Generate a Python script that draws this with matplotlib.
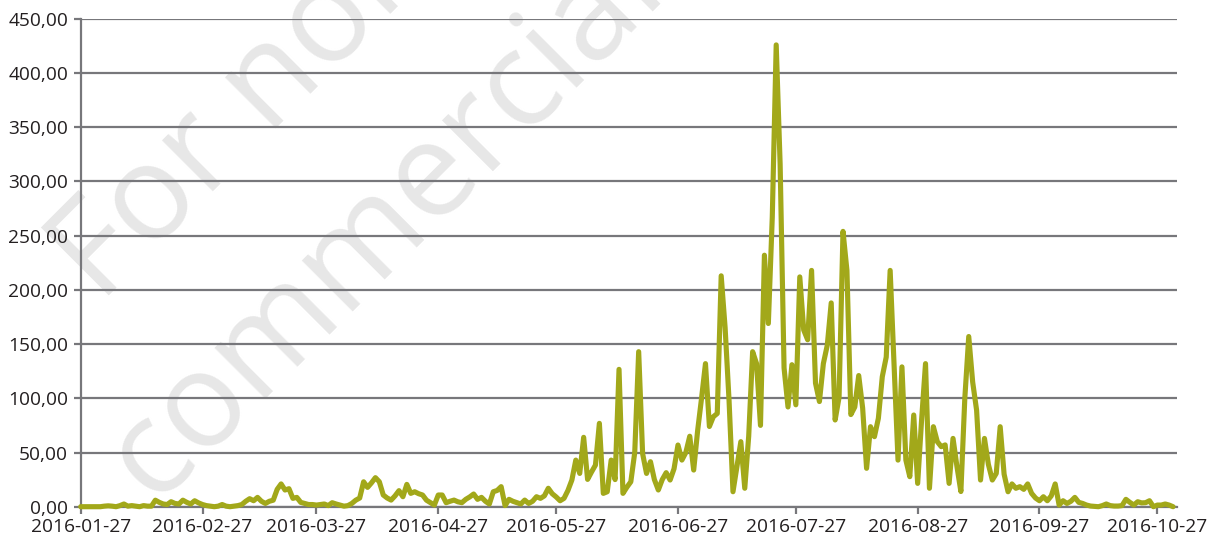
import matplotlib
matplotlib.use("Agg")
import matplotlib.pyplot as plt
import matplotlib.dates as mdates
import matplotlib.ticker as mticker
import pandas as pd

# ---- data -------------------------------------------------------------
start_date = "2016-01-27"
values = [
    0, 0, 0, 0, 0, 0, 0.5, 0.8, 0.5, 0,                 # 0-9
    1, 2.5, 0.5, 1, 0.5, 0, 1, 0.5, 0.5, 6,             # 10-19
    4, 2.5, 2, 4.6, 3, 2.5, 6, 4, 2.5, 5.5,             # 20-29
    3.5, 2, 1, 0.5, 0, 0.5, 2, 0.5, 0, 0.5,             # 30-39
    1, 2, 5, 7.4, 5.5, 8.6, 5, 3, 5, 6,                 # 40-49
    16, 21, 15.4, 16.6, 7.7, 8.6, 4, 3, 2, 2,           # 50-59
    1.5, 2, 2.5, 1, 3.7, 2.5, 1.5, 0.5, 1, 3,           # 60-69
    6, 8, 23, 17.8, 22, 26.8, 23, 10.8, 8, 6.1,         # 70-79
    10, 14.8, 9.2, 20.6, 12.3, 13.8, 12, 10.8, 6, 3.7,  # 80-89
    1.5, 10.8, 10.8, 3.7, 5, 6.1, 4.5, 3.7, 6.8, 9,     # 90-99
    11.7, 6.8, 8.6, 5, 2.5, 13.8, 15, 18.5, 1, 6.8,     # 100-109
    5, 3.7, 2.5, 6.1, 3, 5, 9.2, 7.7, 10, 17,           # 110-119
    12, 9, 5.5, 7.7, 15, 24.6, 43, 30.7, 64, 25.2,      # 120-129
    32, 38.4, 76.9, 12.3, 13.8, 43, 25, 126.7, 12.3, 18, # 130-139
    23, 50, 143, 49, 30.7, 41.5, 25, 15.4, 25, 31.4,    # 140-149
    24.6, 35, 56.9, 43, 50, 65, 33.8, 70, 100, 132,     # 150-159
    74, 83, 86, 213, 165, 98, 13.8, 37, 60, 17,         # 160-169
    65, 143, 132, 75, 232, 169, 267, 426, 316, 128,     # 170-179
    92, 131, 94, 212, 163, 154, 218, 114, 97, 132,      # 180-189
    149, 188, 80, 101, 254, 218, 85, 92, 121, 91,       # 190-199
    35.4, 73.8, 64.6, 81.5, 120, 138, 218, 130, 43, 129, # 200-209
    43, 27.7, 84.6, 21.5, 80, 132, 17, 73.8, 60, 55.4,  # 210-219
    57, 21.5, 63, 37, 14, 100, 157, 115, 89, 24.6,      # 220-229
    63, 39, 24.6, 30.7, 73.8, 30, 13.8, 21, 17, 18.5,   # 230-239
    16, 21, 12.3, 8, 5.5, 9.2, 5.5, 10, 21, 1.5,        # 240-249
    5.5, 3, 5, 8.6, 4, 3, 1.5, 0.6, 0.3, 0,             # 250-259
    1, 2.5, 1, 0.6, 0.6, 1, 6.8, 4, 1.5, 4.6,           # 260-269
    3.5, 3.7, 5.5, 0, 1.5, 1.5, 2.5, 1.5, 0,            # 270-278
]
tick_dates = ["2016-01-27", "2016-02-27", "2016-03-27", "2016-04-27",
              "2016-05-27", "2016-06-27", "2016-07-27", "2016-08-27",
              "2016-09-27", "2016-10-27"]
x_end = "2016-11-01"
y_ticks = [0, 50, 100, 150, 200, 250, 300, 350, 400, 450]
watermark_lines = ["For non-", "commercial use"]

dates = pd.date_range(start_date, periods=len(values), freq="D")

# ---- figure -------------------------------------------------------------
W, H, DPI = 1223, 542, 100
fig = plt.figure(figsize=(W / DPI, H / DPI), dpi=DPI)
ax = fig.add_axes([80.7 / W, 1 - 506.7 / H, (1177 - 80.7) / W, (506.7 - 18.9) / H])
ax.set_facecolor("none")

font = "Open Sans"
grid_c = "#77777b"
line_c = "#a2a81a"
txt_c = "#231f20"

# watermark (drawn behind everything, partly outside the canvas as in the source)
wm_c = "#e7e7e7"
fig.text(100 / W, 1 - 304 / H, watermark_lines[0], rotation=45,
         rotation_mode="anchor", ha="left", va="baseline", fontsize=96,
         color=wm_c, family=font, zorder=-5)
fig.text(156 / W, 1 - 508 / H, watermark_lines[1], rotation=45,
         rotation_mode="anchor", ha="left", va="baseline", fontsize=96,
         color=wm_c, family=font, zorder=-5)

ax.plot(dates, values, color=line_c, lw=3.7, solid_joinstyle="round",
        solid_capstyle="round", zorder=3, clip_on=False)

ax.set_xlim(pd.Timestamp(start_date), pd.Timestamp(x_end))
ax.set_ylim(0, 450)

ax.set_yticks(y_ticks)
ax.yaxis.set_major_formatter(mticker.FuncFormatter(
    lambda v, p: f"{v:,.2f}".replace(",", " ").replace(".", ",")))
ax.set_xticks([pd.Timestamp(d) for d in tick_dates])
ax.xaxis.set_major_formatter(mdates.DateFormatter("%Y-%m-%d"))

ax.grid(axis="y", color=grid_c, lw=1.6, zorder=1)
ax.set_axisbelow(True)
for s in ["top", "right"]:
    ax.spines[s].set_visible(False)
for s in ["left", "bottom"]:
    ax.spines[s].set_color(grid_c)
    ax.spines[s].set_linewidth(1.6)

ax.tick_params(axis="both", colors=grid_c, length=5, width=1.6,
               labelcolor=txt_c, labelsize=13.8)
ax.tick_params(axis="y", pad=4)
ax.tick_params(axis="x", pad=3)
for lab in ax.get_xticklabels() + ax.get_yticklabels():
    lab.set_family(font)

fig.savefig("out.png", dpi=DPI, facecolor="white")
